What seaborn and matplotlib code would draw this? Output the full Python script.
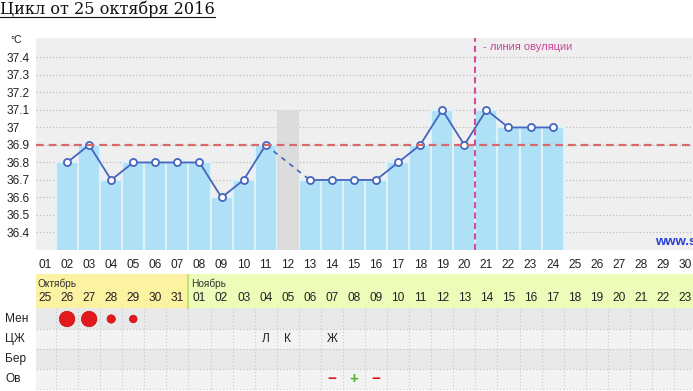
import numpy as np
import pandas as pd
import seaborn as sns
import matplotlib.pyplot as plt
from matplotlib.lines import Line2D

plt.rcParams['font.family'] = ['Liberation Sans', 'DejaVu Sans']

# Cycle days and measured basal temperature (NaN = no measurement)
days = list(range(1, 31))
temp_days = list(range(2, 25))
temps = [36.8, 36.9, 36.7, 36.8, 36.8, 36.8, 36.8, 36.6, 36.7, 36.9, np.nan,
         36.7, 36.7, 36.7, 36.7, 36.8, 36.9, 37.1, 36.9, 37.1, 37.0, 37.0, 37.0]
missing_day = 12
missing_top = 37.1
cover_line = 36.9
ovulation_after_day = 20

# Calendar strip
cal_dates = ['25', '26', '27', '28', '29', '30', '31', '01', '02', '03', '04', '05',
             '06', '07', '08', '09', '10', '11', '12', '13', '14', '15', '16', '17',
             '18', '19', '20', '21', '22', '23']
months = ['Октябрь', 'Ноябрь']
month_start = [1, 8]

# Notes rows
row_labels = ['Мен', 'ЦЖ', 'Бер', 'Ов']
men_days = [2, 3, 4, 5]
men_sizes = [125, 125, 36, 30]
cm_days = [11, 12, 14]
cm_marks = ['Л', 'К', 'Ж']
ov_days = [14, 15, 16]
ov_marks = ['−', '+', '−']

W, H = 693, 391
fig = plt.figure(figsize=(W / 100, H / 100), dpi=100)

px = 22.07
x_left = 1 - (45 - 36) / px
x_right = 1 + (W - 45) / px

# ---- main temperature chart ----
ax = fig.add_axes([36 / W, (H - 250) / H, (W - 36) / W, 212 / H])
ax.set_facecolor('#efefef')
ax.set_axisbelow(True)

df = pd.DataFrame({'day': temp_days, 'temp': temps})
df['segment'] = (df['temp'].isna()).cumsum()
meas = df.dropna()

sns.barplot(data=meas, x='day', y='temp', native_scale=True, width=1.0,
            color='#aee1f6', saturation=1, errorbar=None,
            edgecolor='#dff1fa', linewidth=1.5, ax=ax, zorder=1)
ax.bar(missing_day, missing_top, width=1.0, color='#dcdcdc', zorder=1)

sns.lineplot(data=meas, x='day', y='temp', units='segment', estimator=None,
             color='#4565c0', lw=1.3, ax=ax, zorder=3)
# dashed bridge across the missing day
before = meas[meas['day'] < missing_day].iloc[-1]
after = meas[meas['day'] > missing_day].iloc[0]
sns.lineplot(x=[before['day'], after['day']], y=[before['temp'], after['temp']],
             color='#4565c0', lw=1.2, linestyle=(0, (3, 3)), ax=ax, zorder=3)
sns.scatterplot(data=meas, x='day', y='temp', s=26, color='white',
                edgecolor='#4565c0', linewidth=1.3, ax=ax, zorder=4)

ax.axhline(cover_line, color='#d66a6a', lw=1.6, dashes=(3.5, 2.2), zorder=5)
ax.axvline(ovulation_after_day + 0.5, color='#d44a9c', lw=1.5, dashes=(3, 2), zorder=5)

ax.set_xlim(x_left, x_right)
ax.set_ylim(36.3, 37.511)
yt = [36.4, 36.5, 36.6, 36.7, 36.8, 36.9, 37.0, 37.1, 37.2, 37.3, 37.4]
ax.set_yticks(yt)
ax.set_yticklabels([f'{v:g}' for v in yt], fontsize=8.6, color='#222222')
for lab in ax.get_yticklabels():
    lab.set_ha('left')
ax.tick_params(axis='y', length=0, pad=29 * 0.72)
ax.set_xticks(days)
ax.set_xticklabels([f'{d:02d}' for d in days], fontsize=8.6, color='#222222')
ax.tick_params(axis='x', length=0, pad=6.5)
ax.grid(axis='y', color='#b5b5b5', linestyle=(0, (1, 2)), lw=0.8)
ax.grid(axis='x', visible=False)
ax.set_xlabel('')
ax.set_ylabel('')
for s in ax.spines.values():
    s.set_visible(False)

ax.text(20.85, 37.46, '- линия овуляции', color='#c8449a', fontsize=8, va='center')
ax.text(x_left + (655 - 36) / px, 36.345, 'www.s', color='#2c3ed8', fontsize=9.5,
        fontweight='bold', va='center', clip_on=False)

fig.text(10 / W, 1 - 40 / H, '°C', fontsize=7.5, va='center', color='#222222')

t = fig.text(0, 1 - 14 / H, 'Цикл от 25 октября 2016', fontsize=11.6,
             family=['DejaVu Serif'], va='baseline', color='#111111')
fig.canvas.draw()
bb = t.get_window_extent()
fig.add_artist(Line2D([0, bb.x1 / W], [1 - 16.5 / H, 1 - 16.5 / H], color='#111111', lw=0.8))

# ---- calendar / notes strip ----
ax2 = fig.add_axes([36 / W, 0, (W - 36) / W, (H - 274) / H])
ax2.set_xlim(x_left, x_right)
ax2.set_ylim(H, 274)
ax2.axis('off')

cal_colors = ['#fbf2a2', '#eefcba']
edges = month_start + [x_right + 0.5]
for i in range(len(months)):
    x0 = max(edges[i] - 0.5, x_left)
    ax2.fill_between([x0, edges[i + 1] - 0.5], 274, 308, color=cal_colors[i], lw=0)
    ax2.text(x0 + 2 / px if i == 0 else x0 + 3 / px, 284, months[i], fontsize=7.3,
             va='center', color='#333333')
ax2.plot([month_start[1] - 0.5] * 2, [274, 308], color='#c5e27a', lw=1.5)
for d, lab in zip(days, cal_dates):
    ax2.text(d, 298, lab, fontsize=8.6, ha='center', va='center', color='#222222')

row_tops = [308, 329, 349, 369]
row_colors = ['#e9e9e9', '#f3f3f3', '#e9e9e9', '#f3f3f3']
for i, (top, c) in enumerate(zip(row_tops, row_colors)):
    bot = row_tops[i + 1] if i + 1 < len(row_tops) else 389
    ax2.fill_between([x_left, x_right], top, bot, color=c, lw=0)
    ax2.plot([x_left, x_right], [bot, bot], color='#c2c2c2', lw=0.8, linestyle=(0, (1, 2)))
    fig.text(5 / W, 1 - (top + bot) / 2 / H, row_labels[i], fontsize=8.6,
             va='center', color='#222222')
for d in days:
    ax2.plot([d + 0.5, d + 0.5], [308, 389], color='#c8c8c8', lw=0.8, linestyle=(0, (1, 2)))

sns.scatterplot(x=men_days, y=[319] * len(men_days), size=men_sizes, sizes=(30, 125),
                color='#e3191c', edgecolor='#c41010', linewidth=0.5, legend=False,
                ax=ax2, zorder=4)
for d, m in zip(cm_days, cm_marks):
    ax2.text(d, 339.5, m, fontsize=8.6, ha='center', va='center', color='#222222')
for d, m in zip(ov_days, ov_marks):
    ax2.text(d, 379, m, fontsize=11, ha='center', va='center', fontweight='bold',
             color='#e01818' if m == '−' else '#4caf28')

fig.savefig('out.png', dpi=100)
